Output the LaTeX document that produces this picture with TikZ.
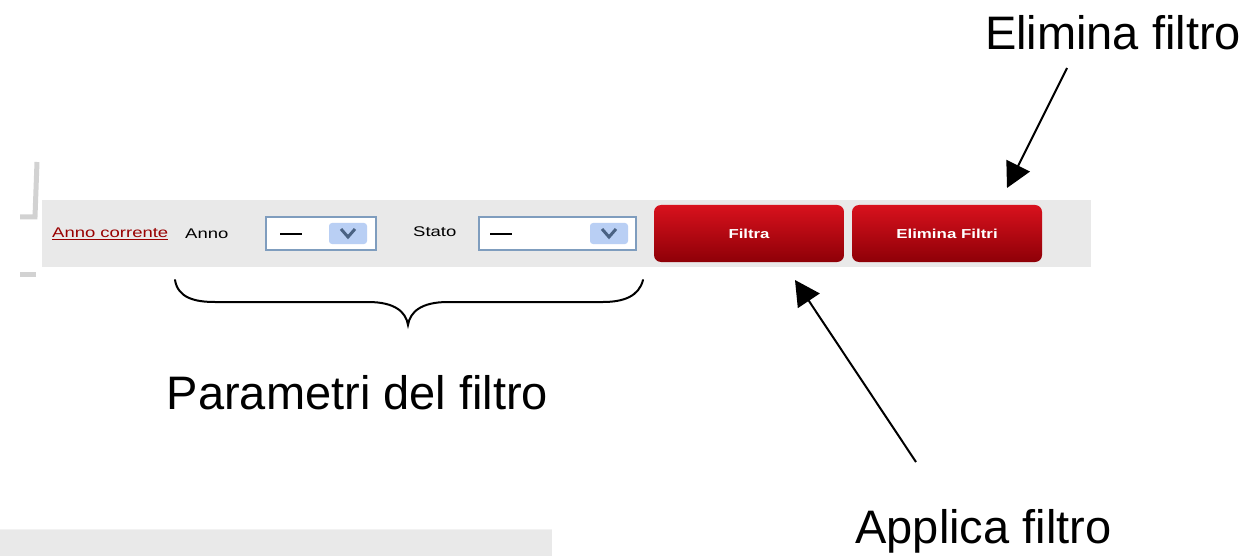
\documentclass[tikz,border=0pt]{standalone}
\usepackage{fontspec}
\usepackage{graphicx}
\setmainfont{Liberation Sans}
\usetikzlibrary{arrows.meta}
\definecolor{bargray}{HTML}{E9E9E9}
\definecolor{leftgray}{HTML}{D2D2D2}
\definecolor{linkred}{HTML}{990000}
\definecolor{comboborder}{HTML}{7F9DBE}
\definecolor{dropblue}{HTML}{B9CFF4}
\definecolor{chevron}{HTML}{4A6283}
\definecolor{btntop}{HTML}{D8111D}
\definecolor{btnmid}{HTML}{C4000C}
\definecolor{btnbot}{HTML}{8E0007}
\tikzset{
  lbl/.style={inner sep=0pt, anchor=base, font=\fontsize{47}{56}\selectfont},
  uitext/.style={inner sep=0pt, anchor=west, font=\fontsize{14}{16}\selectfont},
  btn/.style={rounded corners=7pt, top color=btntop, middle color=btnmid, bottom color=btnbot,
    draw=none, minimum width=190pt, minimum height=57pt, inner sep=0pt, text=white,
    font=\fontsize{13}{15}\selectfont\bfseries},
  combobox/.style={draw=comboborder, line width=2pt, fill=white, inner sep=0pt},
  dropbtn/.style={fill=dropblue, rounded corners=3pt, inner sep=0pt, minimum height=21pt},
  chev/.style={draw=chevron, line width=3pt},
  arr/.style={line width=2pt, -{Triangle[length=25pt,width=26pt]}},
  bracepath/.style={line width=2pt, line cap=round}
}
\begin{document}
\begin{tikzpicture}[x=1pt,y=-1pt]
\useasboundingbox (0,0) rectangle (1250,556);
% toolbar background
\fill[bargray] (42,200) rectangle (1091,267);
% left gray remnants
\draw[leftgray, line width=5pt] (37,162) -- (35,217) -- (20,217);
\draw[leftgray, line width=5pt] (20,274) -- (36,274);
% bottom gray strip
\fill[bargray] (0,529) rectangle (552,556);
\draw[white!95!black, line width=1pt] (0,529.5) -- (552,529.5);
% link and labels
\node[uitext, text=linkred] (anno corr) at (52,234) {\scalebox{1.32}[1]{\underline{Anno corrente}}};
\node[uitext] (anno) at (185,234) {\scalebox{1.32}[1]{Anno}};
% combo 1
\node[combobox, minimum width=110pt, minimum height=33pt] (combo1) at (321,233.5) {};
\node[dropbtn, minimum width=38pt] (drop1) at (348,233.5) {};
\draw[chev] (341,229) -- (348,237) -- (355,229);
\draw[line width=2pt] (280,234) -- (302,234);
% Stato
\node[uitext] (stato) at (413,232) {\scalebox{1.32}[1]{Stato}};
% combo 2
\node[combobox, minimum width=157pt, minimum height=33pt] (combo2) at (557.5,233.5) {};
\node[dropbtn, minimum width=38pt] (drop2) at (609,233.5) {};
\draw[chev] (602,229) -- (609,237) -- (616,229);
\draw[line width=2pt] (490,234) -- (512,234);
% buttons
\node[btn] (filtra) at (749,233.5) {\scalebox{1.29}[1]{Filtra}};
\node[btn] (elimbtn) at (947,233.5) {\scalebox{1.3}[1]{Elimina Filtri}};
% annotation labels
\node[lbl] (elim) at (1113,50) {Elimina filtro};
\node[lbl] (param) at (357.5,409) {Parametri del filtro};
\node[lbl] (appl) at (983.5,543) {Applica filtro};
% arrows
\coordinate (e1) at (1067,68);
\coordinate (e2) at (1007,188);
\draw[arr] (e1) -- (e2);
\coordinate (a1) at (916,462);
\coordinate (a2) at (795,280);
\draw[arr] (a1) -- (a2);
% brace
\coordinate (bl) at (175,280);
\coordinate (bt) at (408,325);
\coordinate (br) at (643,280);
\draw[bracepath] (bl) .. controls (178,298) and (195,302) .. (215,302)
  -- (368,302) .. controls (395,302) and (406,312) .. (bt)
  .. controls (410,312) and (421,302) .. (448,302)
  -- (603,302) .. controls (624,302) and (639,296) .. (br);
\end{tikzpicture}
\end{document}
